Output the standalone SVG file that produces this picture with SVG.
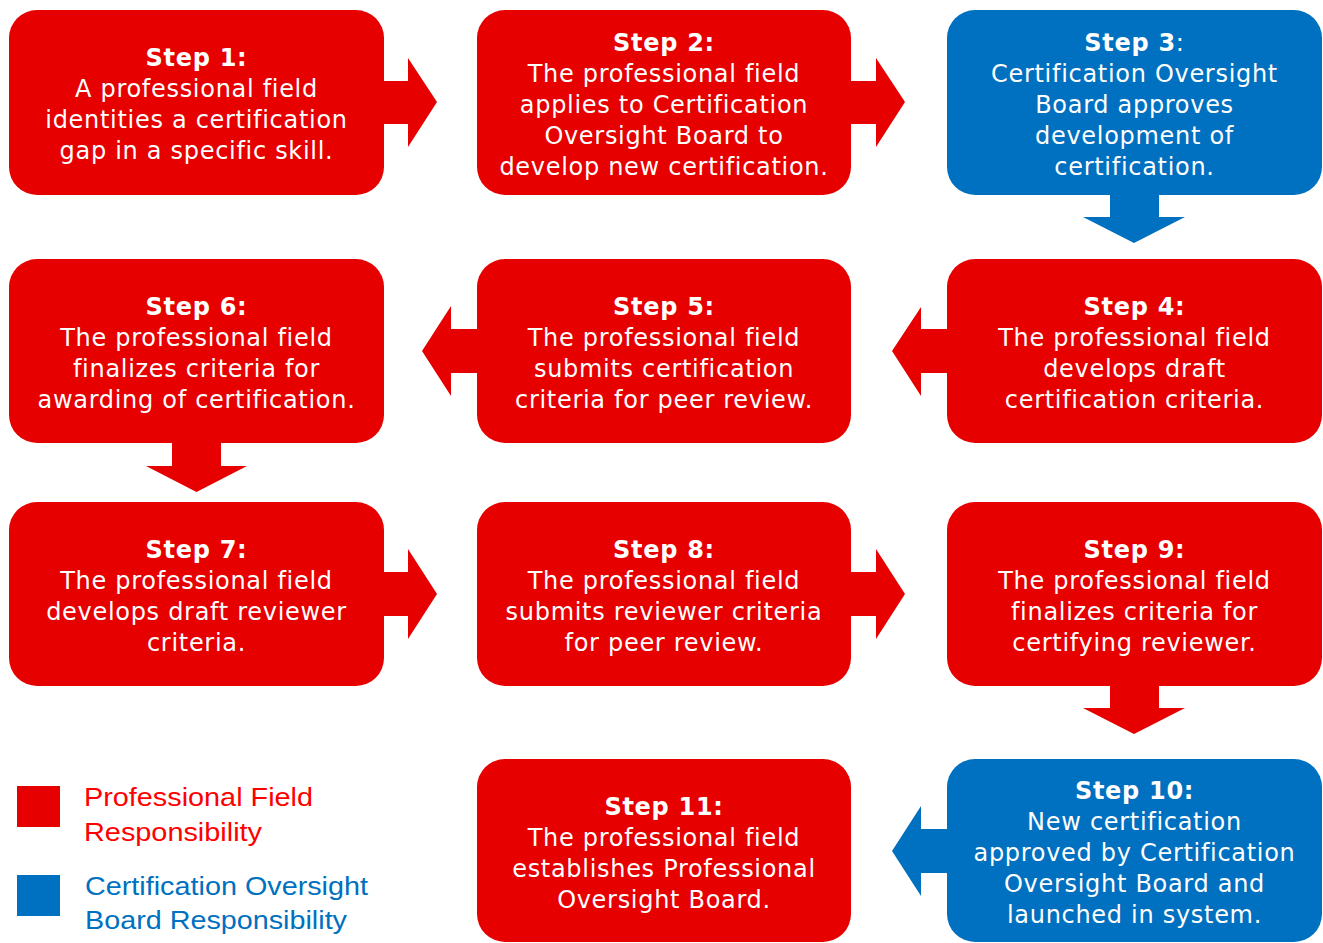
<svg xmlns="http://www.w3.org/2000/svg" width="1323" height="943" viewBox="0 0 1323 943">
<style>
.red{fill:#E60000}
.blue{fill:#0070C0}
.t{font-family:"DejaVu Sans",Verdana,sans-serif;font-size:24px;fill:#FFFFFF;text-anchor:middle;letter-spacing:0.7px}
.b{font-weight:bold}
.lg{font-family:"Liberation Sans",Arial,sans-serif;font-size:25px}
</style>
<rect width="1323" height="943" fill="#FFFFFF"/>
<g id="connectors">
<polygon class="red" points="380,81 408,81 408,58 437,102 408,147 408,124 380,124"/>
<polygon class="red" points="848,81 876,81 876,58 905,102 876,147 876,124 848,124"/>
<polygon class="blue" points="1110,190 1159,190 1159,217 1185,217 1134,243 1083,217 1110,217"/>
<polygon class="red" points="951,329 921,329 921,307 892,351 921,396 921,373 951,373"/>
<polygon class="red" points="481,329 451,329 451,306 422,351 451,396 451,373 481,373"/>
<polygon class="red" points="172,438 221,438 221,466 247,466 196.5,492 146,466 172,466"/>
<polygon class="red" points="380,572 408,572 408,549 437,594 408,639 408,616 380,616"/>
<polygon class="red" points="848,572 876,572 876,549 905,594 876,639 876,616 848,616"/>
<polygon class="red" points="1110,681 1159,681 1159,708 1185,708 1134,734 1083,708 1110,708"/>
<polygon class="blue" points="951,829 921,829 921,806 892,851 921,896 921,873 951,873"/>
</g>
<g id="step1">
<rect class="red" x="9" y="10" width="375" height="185" rx="28"/>
<text class="t" x="196.5" y="66"><tspan class="b">Step 1:</tspan><tspan x="196.5" dy="31">A professional field</tspan><tspan x="196.5" dy="31">identities a certification</tspan><tspan x="196.5" dy="31">gap in a specific skill.</tspan></text>
</g>
<g id="step2">
<rect class="red" x="477" y="10" width="374" height="185" rx="28"/>
<text class="t" x="664" y="51"><tspan class="b">Step 2:</tspan><tspan x="664" dy="31">The professional field</tspan><tspan x="664" dy="31">applies to Certification</tspan><tspan x="664" dy="31">Oversight Board to</tspan><tspan x="664" dy="31">develop new certification.</tspan></text>
</g>
<g id="step3">
<rect class="blue" x="947" y="10" width="375" height="185" rx="28"/>
<text class="t" x="1134.5" y="51"><tspan class="b">Step 3</tspan><tspan>:</tspan><tspan x="1134.5" dy="31">Certification Oversight</tspan><tspan x="1134.5" dy="31">Board approves</tspan><tspan x="1134.5" dy="31">development of</tspan><tspan x="1134.5" dy="31">certification.</tspan></text>
</g>
<g id="step4">
<rect class="red" x="947" y="259" width="375" height="184" rx="28"/>
<text class="t" x="1134.5" y="315"><tspan class="b">Step 4:</tspan><tspan x="1134.5" dy="31">The professional field</tspan><tspan x="1134.5" dy="31">develops draft</tspan><tspan x="1134.5" dy="31">certification criteria.</tspan></text>
</g>
<g id="step5">
<rect class="red" x="477" y="259" width="374" height="184" rx="28"/>
<text class="t" x="664" y="315"><tspan class="b">Step 5:</tspan><tspan x="664" dy="31">The professional field</tspan><tspan x="664" dy="31">submits certification</tspan><tspan x="664" dy="31">criteria for peer review.</tspan></text>
</g>
<g id="step6">
<rect class="red" x="9" y="259" width="375" height="184" rx="28"/>
<text class="t" x="196.5" y="315"><tspan class="b">Step 6:</tspan><tspan x="196.5" dy="31">The professional field</tspan><tspan x="196.5" dy="31">finalizes criteria for</tspan><tspan x="196.5" dy="31">awarding of certification.</tspan></text>
</g>
<g id="step7">
<rect class="red" x="9" y="502" width="375" height="184" rx="28"/>
<text class="t" x="196.5" y="558"><tspan class="b">Step 7:</tspan><tspan x="196.5" dy="31">The professional field</tspan><tspan x="196.5" dy="31">develops draft reviewer</tspan><tspan x="196.5" dy="31">criteria.</tspan></text>
</g>
<g id="step8">
<rect class="red" x="477" y="502" width="374" height="184" rx="28"/>
<text class="t" x="664" y="558"><tspan class="b">Step 8:</tspan><tspan x="664" dy="31">The professional field</tspan><tspan x="664" dy="31">submits reviewer criteria</tspan><tspan x="664" dy="31">for peer review.</tspan></text>
</g>
<g id="step9">
<rect class="red" x="947" y="502" width="375" height="184" rx="28"/>
<text class="t" x="1134.5" y="558"><tspan class="b">Step 9:</tspan><tspan x="1134.5" dy="31">The professional field</tspan><tspan x="1134.5" dy="31">finalizes criteria for</tspan><tspan x="1134.5" dy="31">certifying reviewer.</tspan></text>
</g>
<g id="step10">
<rect class="blue" x="947" y="759" width="375" height="183" rx="28"/>
<text class="t" x="1134.5" y="799"><tspan class="b">Step 10:</tspan><tspan x="1134.5" dy="31">New certification</tspan><tspan x="1134.5" dy="31">approved by Certification</tspan><tspan x="1134.5" dy="31">Oversight Board and</tspan><tspan x="1134.5" dy="31">launched in system.</tspan></text>
</g>
<g id="step11">
<rect class="red" x="477" y="759" width="374" height="183" rx="28"/>
<text class="t" x="664" y="815"><tspan class="b">Step 11:</tspan><tspan x="664" dy="31">The professional field</tspan><tspan x="664" dy="31">establishes Professional</tspan><tspan x="664" dy="31">Oversight Board.</tspan></text>
</g>
<g id="legend">
<rect class="red" x="17" y="786" width="43" height="41"/>
<rect class="blue" x="17" y="875" width="43" height="41"/>
<text class="lg" fill="#FF0000" x="84" y="806" textLength="229" lengthAdjust="spacingAndGlyphs">Professional Field</text>
<text class="lg" fill="#FF0000" x="84" y="841" textLength="178" lengthAdjust="spacingAndGlyphs">Responsibility</text>
<text class="lg" fill="#0070C0" x="85" y="895" textLength="283" lengthAdjust="spacingAndGlyphs">Certification Oversight</text>
<text class="lg" fill="#0070C0" x="85" y="929" textLength="262" lengthAdjust="spacingAndGlyphs">Board Responsibility</text>
</g>
</svg>
